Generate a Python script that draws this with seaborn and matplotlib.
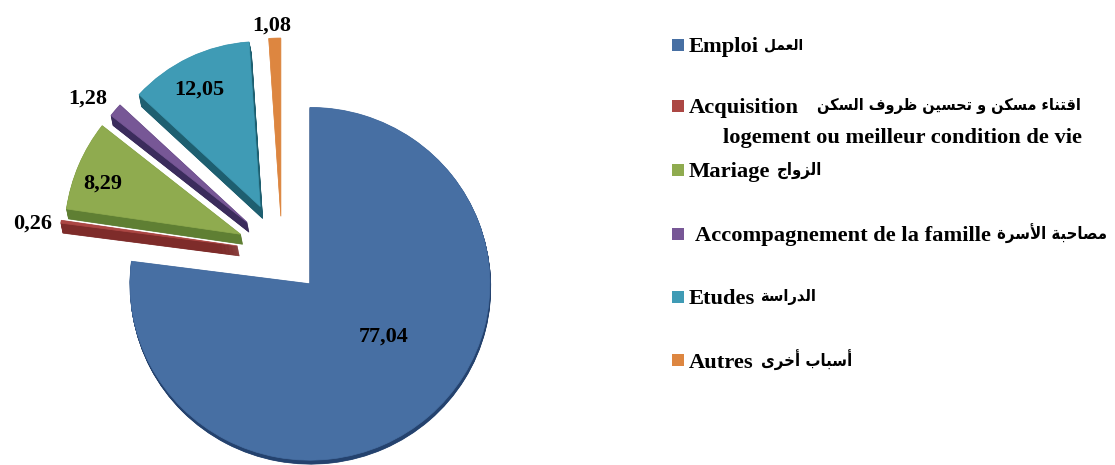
import matplotlib
matplotlib.use("Agg")
from matplotlib import pyplot as plt
from matplotlib.patches import Rectangle
from matplotlib.transforms import Affine2D
import seaborn as sns

# share of each reason, in pie order
categories = ["Emploi", "Acquisition", "Mariage", "Accompagnement de la famille", "Etudes", "Autres"]
arabic = ["العمل", "اقتناء مسكن و تحسين ظروف السكن", "الزواج", "مصاحبة الأسرة", "الدراسة", "أسباب أخرى"]
values = [77.04, 0.26, 8.29, 1.28, 12.05, 1.08]
value_labels = ["77,04", "0,26", "8,29", "1,28", "12,05", "1,08"]

face_colors = ["#476FA3", "#AC4744", "#8FAB4F", "#775796", "#3F9BB5", "#DD8640"]
side_colors = ["#24426E", "#7E2C2A", "#5F7F33", "#3B2C5C", "#1E5F70", "#E8B080"]
explode = [0.235, 0.25, 0.25, 0.255, 0.28, 0.20]
radii = [180, 178, 176, 173, 165, 178]
depths = [4, 10, 10, 10, 12, 0.5]

W, H = 1115, 465
R = 180
CENTER = (282, H - 252)
LATIN = "Liberation Serif"
ARAB = "DejaVu Sans"

# isolated form of each letter; the two-form letters only join to the right
FOUR = {"ب": 0xFE8F, "ت": 0xFE95, "ج": 0xFE9D, "ح": 0xFEA1, "خ": 0xFEA5, "س": 0xFEB1,
        "ص": 0xFEB9, "ظ": 0xFEC5, "ع": 0xFEC9, "ف": 0xFED1, "ق": 0xFED5, "ك": 0xFED9,
        "ل": 0xFEDD, "م": 0xFEE1, "ن": 0xFEE5, "ي": 0xFEF1}
TWO = {"أ": 0xFE83, "ا": 0xFE8D, "ة": 0xFE93, "د": 0xFEA9, "ر": 0xFEAD, "ز": 0xFEAF,
       "و": 0xFEED, "ى": 0xFEEF}
ALONE = {"ء": 0xFE80}


def shape(text):
    # matplotlib does no Arabic shaping, so pick the joined forms by hand
    text = text.replace("لأ", "\uFEF7")
    out = []
    for i, c in enumerate(text):
        prev = text[i - 1] if i else " "
        nxt = text[i + 1] if i + 1 < len(text) else " "
        joined_before = prev in FOUR
        joined_after = nxt in FOUR or nxt in TWO or nxt == "\uFEF7"
        if c in FOUR:
            form = 3 if joined_before and joined_after else 1 if joined_before else 2 if joined_after else 0
            out.append(chr(FOUR[c] + form))
        elif c in TWO:
            out.append(chr(TWO[c] + (1 if joined_before else 0)))
        elif c in ALONE:
            out.append(chr(ALONE[c]))
        elif c == "\uFEF7":
            out.append(chr(0xFEF8 if joined_before else 0xFEF7))
        else:
            out.append(c)
    return "".join(reversed(out))


def draw_pie(ax, colors, depth=0.0):
    # pie takes explode in data units here, and the axes are in pixels
    wedges, _ = ax.pie(values, colors=colors, explode=[e * R for e in explode], radius=R,
                       center=(CENTER[0] + 0.2 * depth, CENTER[1] - depth),
                       startangle=90, counterclock=False, normalize=True)
    for i, wedge in enumerate(wedges):
        wedge.set_radius(radii[i])
        wedge.set_edgecolor(colors[i])
        wedge.set_linewidth(0.5)
        wedge.set_visible(depth <= depths[i])
    # the big slice is a little flattened in the original
    cy = wedges[0].center[1]
    squash = Affine2D().translate(0, -cy).scale(1, 0.98).translate(0, cy)
    wedges[0].set_transform(squash + ax.transData)
    return wedges


sns.set_theme(style="white")
plt.rcParams["font.family"] = [LATIN, ARAB]

fig = plt.figure(figsize=(W / 100, H / 100), dpi=100)
ax = fig.add_axes([0, 0, 1, 1])

# extruded side in half pixel layers, then the top face
for step in range(24, 0, -1):
    draw_pie(ax, side_colors, depth=step / 2)
draw_pie(ax, face_colors)

ax.set_xlim(0, W)
ax.set_ylim(0, H)
ax.set_aspect("equal")
ax.axis("off")

label_pos = [(384, 337), (33, 224), (103, 184), (88, 99), (199, 90), (272, 26)]
for (x, y), lab in zip(label_pos, value_labels):
    ax.text(x, H - y, lab, ha="center", va="center", fontsize=16, fontweight="bold",
            family=LATIN, color="black")

# legend rows are unevenly spaced in the original, so place them one by one
row_y = [45, 106, 170, 234, 297, 360]
latin_x = [689, 689, 689, 695, 689, 689]
arab_x = [764, 817, 777, 997, 760, 761]
arab_size = [11, 11.6, 12, 12, 11.8, 12]
for i, name in enumerate(categories):
    y = H - row_y[i]
    ax.add_patch(Rectangle((672, y - 6), 12, 12, facecolor=face_colors[i], edgecolor="none"))
    ax.text(latin_x[i], y, name, ha="left", va="center_baseline", fontsize=16.2, fontweight="bold",
            family=LATIN, color="black")
    ax.text(arab_x[i], y + 2, shape(arabic[i]), ha="left", va="center_baseline",
            fontsize=arab_size[i], fontweight="bold", stretch="condensed", family=ARAB, color="black")
ax.text(1082, H - 136, "logement ou meilleur condition de vie", ha="right", va="center_baseline",
        fontsize=16.2, fontweight="bold", family=LATIN, color="black")

fig.savefig("out.png", dpi=100, facecolor="white")
